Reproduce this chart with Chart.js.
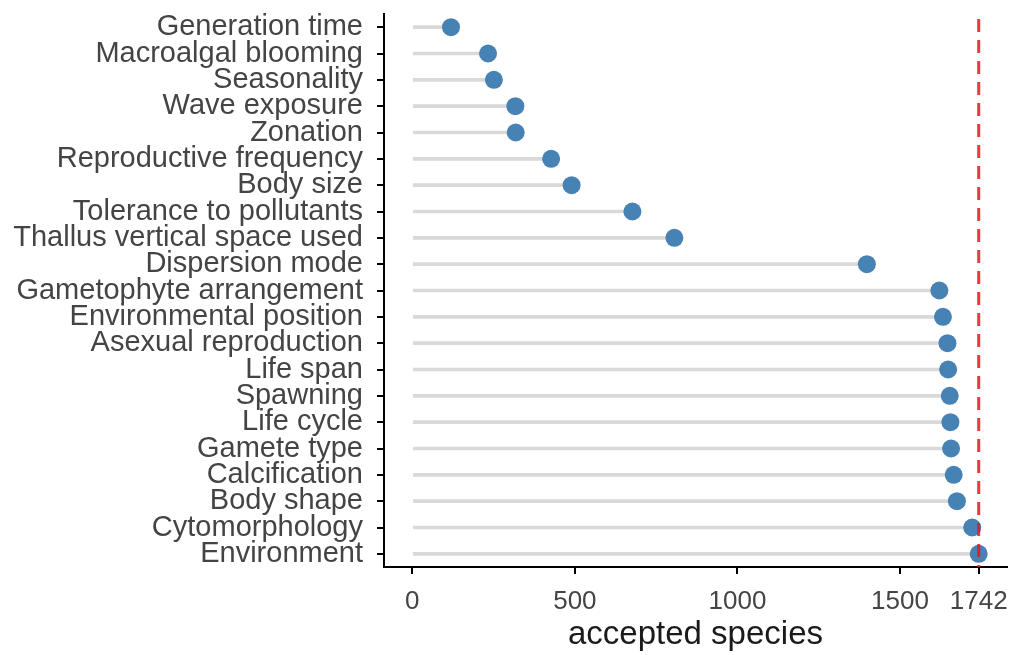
<!DOCTYPE html>
<html>
<head>
<meta charset="utf-8">
<script src="https://cdn.jsdelivr.net/npm/chart.js"></script>
<style>
  html, body { margin: 0; padding: 0; background: #fff; }
  #wrap { width: 1016px; height: 655px; position: relative; }
</style>
</head>
<body>
<div id="wrap"><canvas id="traitsChart"></canvas></div>
<script>
// traits, top to bottom
const traits = [
  'Generation time', 'Macroalgal blooming', 'Seasonality', 'Wave exposure',
  'Zonation', 'Reproductive frequency', 'Body size', 'Tolerance to pollutants',
  'Thallus vertical space used', 'Dispersion mode', 'Gametophyte arrangement',
  'Environmental position', 'Asexual reproduction', 'Life span', 'Spawning',
  'Life cycle', 'Gamete type', 'Calcification', 'Body shape', 'Cytomorphology',
  'Environment'
];
// accepted species with info for each trait
const acceptedSpecies = [
  119, 233, 251, 317,
  318, 427, 490, 677,
  806, 1398, 1621,
  1632, 1646, 1648, 1653,
  1655, 1657, 1665, 1675, 1722,
  1742
];
const totalSpecies = 1742;
const xTickValues = [0, 500, 1000, 1500, 1742];

// red dashed reference line at the total number of species
const totalLine = {
  id: 'totalLine',
  afterDatasetsDraw(chart) {
    const x = chart.scales.x.getPixelForValue(totalSpecies);
    const area = chart.chartArea;
    const ctx = chart.ctx;
    ctx.save();
    ctx.strokeStyle = 'rgba(235, 20, 30, 0.85)';
    ctx.lineWidth = 3;
    ctx.setLineDash([13, 8]);
    ctx.beginPath();
    ctx.moveTo(x, area.top + 5);
    ctx.lineTo(x, area.bottom);
    ctx.stroke();
    ctx.restore();
  }
};

const ctx = document.getElementById('traitsChart');
new Chart(ctx, {
  type: 'bar',
  data: {
    labels: traits,
    datasets: [
      {
        type: 'line',
        data: acceptedSpecies,
        showLine: false,
        pointRadius: 9,
        pointBackgroundColor: '#4682b4',
        pointBorderWidth: 0,
        order: 0
      },
      {
        type: 'bar',
        data: acceptedSpecies,
        backgroundColor: '#d9d9d9',
        barThickness: 3,
        order: 1
      }
    ]
  },
  options: {
    indexAxis: 'y',
    responsive: true,
    maintainAspectRatio: false,
    animation: false,
    layout: { padding: { top: 14, right: 7, left: 0, bottom: 0 } },
    plugins: {
      legend: { display: false },
      tooltip: { enabled: false }
    },
    scales: {
      x: {
        type: 'linear',
        min: -87,
        max: 1829,
        afterBuildTicks: (scale) => {
          scale.ticks = xTickValues.map(v => ({ value: v }));
        },
        afterFit: (scale) => {
          scale.height = 88;
          scale.paddingLeft = 0;
          scale.paddingRight = 0;
        },
        border: { display: true, color: '#000', width: 2 },
        grid: { drawOnChartArea: false, color: '#000', lineWidth: 2, tickLength: 7 },
        ticks: {
          color: '#444',
          font: { family: 'Liberation Sans', size: 26 },
          padding: 12,
          maxRotation: 0,
          autoSkip: false,
          callback: (v) => String(v)
        },
        title: {
          display: true,
          text: 'accepted species',
          color: '#1a1a1a',
          font: { family: 'Liberation Sans', size: 33 },
          padding: { top: 4, bottom: 0 }
        }
      },
      y: {
        afterFit: (scale) => {
          scale.width = 384;
          scale.paddingTop = 0;
          scale.paddingBottom = 0;
        },
        border: { display: true, color: '#000', width: 2 },
        grid: { drawOnChartArea: false, offset: false, color: '#000', lineWidth: 2, tickLength: 7 },
        ticks: {
          color: '#444',
          font: { family: 'Liberation Sans', size: 29 },
          padding: 14,
          autoSkip: false
        }
      }
    }
  },
  plugins: [totalLine]
});
</script>
</body>
</html>
